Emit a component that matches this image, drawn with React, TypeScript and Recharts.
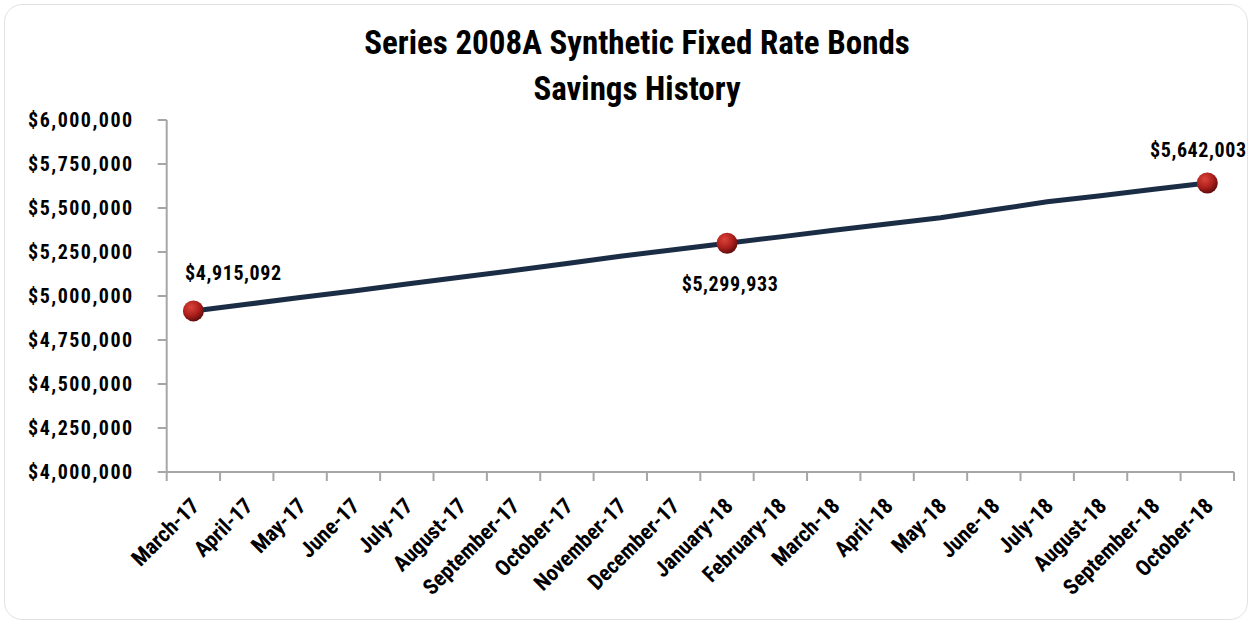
import React from 'react';
import { LineChart, Line, XAxis, YAxis, LabelList } from 'recharts';

const months = [
  'March-17', 'April-17', 'May-17', 'June-17', 'July-17', 'August-17', 'September-17',
  'October-17', 'November-17', 'December-17', 'January-18', 'February-18', 'March-18',
  'April-18', 'May-18', 'June-18', 'July-18', 'August-18', 'September-18', 'October-18',
];

const savings = [
  4915092, 4953000, 4991000, 5029000, 5068000, 5106000, 5145000,
  5185000, 5226000, 5263000, 5299933, 5336000, 5373000,
  5409000, 5445000, 5490000, 5535000, 5570000, 5606000, 5642003,
];

const yTicks = [4000000, 4250000, 4500000, 4750000, 5000000, 5250000, 5500000, 5750000, 6000000];

// points that get a marker and a value label
const marked = [0, 10, 19];

const data = months.map((m, i) => ({ month: m, value: savings[i] }));

const FONT = "'Roboto Condensed', 'Liberation Sans Narrow', 'DejaVu Sans Condensed', sans-serif";
const AXIS = '#a6a6a6';
const HALF = 26.7; // half a category step, used for the between-category ticks

const money = (v: number) => '$' + v.toLocaleString('en-US');

const MonthTick = (props: any) => {
  const { x, y, payload, index } = props;
  return (
    <g>
      <line x1={x - HALF} y1={y} x2={x - HALF} y2={y + 9} stroke={AXIS} strokeWidth={2} />
      {index === months.length - 1 && (
        <line x1={x + HALF} y1={y} x2={x + HALF} y2={y + 9} stroke={AXIS} strokeWidth={2} />
      )}
      <text
        x={0}
        y={0}
        transform={`translate(${x + 2},${y + 30}) rotate(-45)`}
        textAnchor="end"
        dominantBaseline="central"
        fontSize={22}
        fontWeight="bold"
        fontFamily={FONT}
        fill="#000"
      >
        {payload.value}
      </text>
    </g>
  );
};

const Ball = (props: any) => {
  const { cx, cy, index } = props;
  if (!marked.includes(index)) return <g key={`d${index}`} />;
  return <circle key={`d${index}`} cx={cx} cy={cy} r={10.5} fill="url(#ball)" />;
};

const PointLabel = (props: any) => {
  const { x, y, value, index } = props;
  if (!marked.includes(index)) return null;
  let dx = 40;
  let dy = -38;
  if (index === 10) { dx = 3; dy = 41; }
  if (index === 19) { dx = -9; dy = -33; }
  return (
    <text
      x={x + dx}
      y={y + dy}
      textAnchor="middle"
      dominantBaseline="central"
      fontSize={20}
      fontWeight="bold"
      fontFamily={FONT}
      letterSpacing={0.6}
      fill="#000"
    >
      {money(value)}
    </text>
  );
};

export default function App() {
  return (
    <div style={{ position: 'absolute', left: 0, top: 0, width: 1253, height: 624, background: '#fff' }}>
      <div
        style={{
          position: 'absolute',
          left: 4,
          top: 4,
          width: 1244,
          height: 616,
          border: '1px solid #e2e2e2',
          borderRadius: 18,
          boxSizing: 'border-box',
        }}
      />
      <LineChart
        width={1253}
        height={624}
        data={data}
        margin={{ top: 120, right: 19, bottom: 0, left: 0 }}
        style={{ position: 'absolute', left: 0, top: 0 }}
      >
        <defs>
          <radialGradient id="ball" cx="38%" cy="32%" r="70%">
            <stop offset="0%" stopColor="#d9443a" />
            <stop offset="55%" stopColor="#b0211d" />
            <stop offset="100%" stopColor="#5e0c0c" />
          </radialGradient>
        </defs>
        <text x={637} y={53.5} textAnchor="middle" fontSize={33} fontWeight="bold" fontFamily={FONT} fill="#000">
          Series 2008A Synthetic Fixed Rate Bonds
        </text>
        <text x={637} y={100} textAnchor="middle" fontSize={33} fontWeight="bold" fontFamily={FONT} fill="#000">
          Savings History
        </text>
        <XAxis
          dataKey="month"
          interval={0}
          height={152}
          padding={{ left: HALF, right: HALF }}
          tickSize={0}
          tickMargin={0}
          tickLine={false}
          axisLine={{ stroke: AXIS, strokeWidth: 2 }}
          tick={<MonthTick />}
        />
        <YAxis
          domain={[4000000, 6000000]}
          ticks={yTicks}
          width={166.7}
          tickSize={9}
          tickMargin={24}
          axisLine={{ stroke: AXIS, strokeWidth: 2 }}
          tickLine={{ stroke: AXIS, strokeWidth: 2 }}
          tickFormatter={money}
          tick={{ fontSize: 20, fontWeight: 'bold', fontFamily: FONT, fill: '#000', letterSpacing: 1.5 }}
        />
        <Line
          dataKey="value"
          type="linear"
          stroke="#1b2d45"
          strokeWidth={5}
          dot={<Ball />}
          activeDot={false}
          isAnimationActive={false}
        >
          <LabelList dataKey="value" content={<PointLabel />} />
        </Line>
      </LineChart>
    </div>
  );
}
